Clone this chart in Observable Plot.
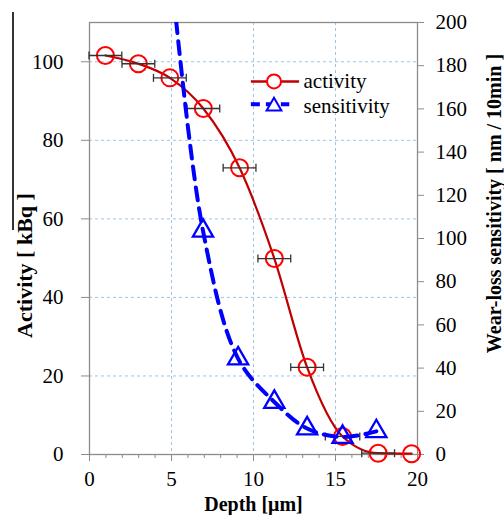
<!DOCTYPE html>
<html><head><meta charset="utf-8">
<script src="https://cdn.jsdelivr.net/npm/d3@7"></script>
<script src="https://cdn.jsdelivr.net/npm/@observablehq/plot@0.6"></script>
<style>
body{margin:0;background:#fff;}
#wrap{position:relative;width:504px;height:515px;}
#stray{position:absolute;left:12px;top:12px;width:1.5px;height:218px;background:#333;}
</style>
</head><body><div id="wrap"><div id="stray"></div></div>
<script>
// ---- data ----
const depthActivity = [0.97, 2.98, 4.9, 6.94, 9.15, 11.27, 13.27, 15.43, 17.6, 19.64];
const activity      = [101.6, 99.5, 95.9, 88.1, 73.0, 49.9, 22.2, 4.6, 0.33, 0.2];
const depthError    = [1.0, 1.0, 1.0, 1.0, 1.0, 1.0, 1.0, 1.05, 1.0, 0];
const depthSensitivity = [4.9, 6.92, 9.06, 11.27, 13.27, 15.43, 17.49];
const sensitivity      = [230, 103.6, 44.4, 24.3, 12.0, 8.1, 10.7];
const leftTicks  = [0, 20, 40, 60, 80, 100];
const rightTicks = [0, 20, 40, 60, 80, 100, 120, 140, 160, 180, 200];
const xMajorTicks = [0, 5, 10, 15, 20];
const xMinorTicks = [0,1,2,3,4,5,6,7,8,9,10,11,12,13,14,15,16,17,18,19,20];
const gridLeft = [20, 40, 60, 80, 100];
const gridX = [5, 10, 15];
const seriesNames = ["activity", "sensitivity"];
const axisTitles = {x: "Depth [μm]", yLeft: "Activity [ kBq ]", yRight: "Wear-loss sensitivity [ nm / 10min ]"};

// ---- derived tables ----
const act = depthActivity.map((x, i) => ({x, y: activity[i], e: depthError[i]}));
const actErr = act.filter(d => d.e > 0);
const y2 = d3.scaleLinear([0, 200], [0, 110]);
const sens = depthSensitivity.map((x, i) => ({x, s: sensitivity[i], y: y2(sensitivity[i])}));
const sensVisible = sens.filter(d => d.s <= 200);

const serif = "'Liberation Serif', 'Times New Roman', serif";
const gridStyle = {stroke: "#9dc3e6", strokeOpacity: 1, strokeDasharray: "3,3", strokeWidth: 1};
const capSymbol = {draw(ctx, size) { const h = Math.sqrt(size / Math.PI); ctx.moveTo(0, -h); ctx.lineTo(0, h); }};

// legend placement (data coordinates)
const legX1 = 9.84, legX2 = 12.78, legXm = 11.25, legXt = 13.05, legY1 = 95.0, legY2 = 89.2;

const chart = Plot.plot({
  width: 504, height: 515,
  marginLeft: 89, marginRight: 87, marginTop: 22, marginBottom: 61,
  style: {fontFamily: serif, color: "#000", background: "#fff"},
  x: {domain: [0, 20], label: null},
  y: {domain: [0, 110], label: null},
  marks: [
    Plot.gridY(gridLeft, gridStyle),
    Plot.gridX(gridX, gridStyle),
    Plot.frame({stroke: "#8c8c8c", strokeWidth: 1.3}),
    Plot.axisY(leftTicks, {anchor: "left", tickSize: 8, tickPadding: 18, fontSize: 21, stroke: "#8c8c8c", label: null}),
    Plot.axisY(rightTicks, {anchor: "right", y: y2, tickFormat: d => d, tickSize: 6, tickPadding: 12, fontSize: 21, stroke: "#8c8c8c", label: null}),
    Plot.axisX(xMinorTicks, {anchor: "bottom", tickSize: 4, tickFormat: () => "", stroke: "#8c8c8c", label: null}),
    Plot.axisX(xMajorTicks, {anchor: "bottom", tickSize: 7, tickPadding: 10, fontSize: 21, stroke: "#8c8c8c", label: null}),
    // axis titles
    Plot.text([axisTitles.yLeft], {frameAnchor: "left", textAnchor: "middle", lineAnchor: "middle", dx: -65, dy: 27, rotate: -90, fontSize: 22, fontWeight: "bold"}),
    Plot.text([axisTitles.yRight], {frameAnchor: "right", textAnchor: "middle", lineAnchor: "middle", dx: 77, dy: -35, rotate: -90, fontSize: 20, fontWeight: "bold"}),
    Plot.text([axisTitles.x], {frameAnchor: "bottom", textAnchor: "middle", lineAnchor: "middle", dy: 50, fontSize: 20, fontWeight: "bold"}),
    // activity series
    Plot.line(act, {x: "x", y: "y", stroke: "#c00000", strokeWidth: 2.2, curve: "monotone-x"}),
    Plot.dot(act, {x: "x", y: "y", r: 8.5, stroke: "#ff0000", strokeWidth: 2, fill: "none"}),
    Plot.link(actErr, {x1: d => d.x - d.e, x2: d => d.x + d.e, y1: "y", y2: "y", stroke: "#333", strokeWidth: 1.3}),
    Plot.dot(actErr, {x: d => d.x - d.e, y: "y", symbol: capSymbol, r: 4, stroke: "#333", strokeWidth: 1.3}),
    Plot.dot(actErr, {x: d => d.x + d.e, y: "y", symbol: capSymbol, r: 4, stroke: "#333", strokeWidth: 1.3}),
    // sensitivity series
    Plot.line(sens, {x: "x", y: "y", stroke: "#0000ff", strokeWidth: 4, strokeDasharray: "13,8", curve: "catmull-rom", clip: true}),
    Plot.dot(sensVisible, {x: "x", y: "y", symbol: "triangle", r: 7.5, stroke: "#0000ff", strokeWidth: 2.3, fill: "none"}),
    // legend
    Plot.link([0], {x1: legX1, x2: legX2, y1: legY1, y2: legY1, stroke: "#c00000", strokeWidth: 2.5}),
    Plot.dot([0], {x: legXm, y: legY1, r: 7, stroke: "#ff0000", strokeWidth: 2, fill: "white"}),
    Plot.link([0], {x1: legX1, x2: legX2 - 0.6, y1: legY2, y2: legY2, stroke: "#0000ff", strokeWidth: 4, strokeDasharray: "9,6"}),
    Plot.dot([0], {x: legXm, y: legY2, symbol: "triangle", r: 5.5, stroke: "#0000ff", strokeWidth: 2, fill: "white", dy: 2}),
    Plot.text([seriesNames[0]], {x: legXt, y: legY1, textAnchor: "start", fontSize: 21}),
    Plot.text([seriesNames[1]], {x: legXt, y: legY2, textAnchor: "start", fontSize: 21, dy: 2})
  ]
});
document.getElementById("wrap").appendChild(chart);
</script>
</body></html>
